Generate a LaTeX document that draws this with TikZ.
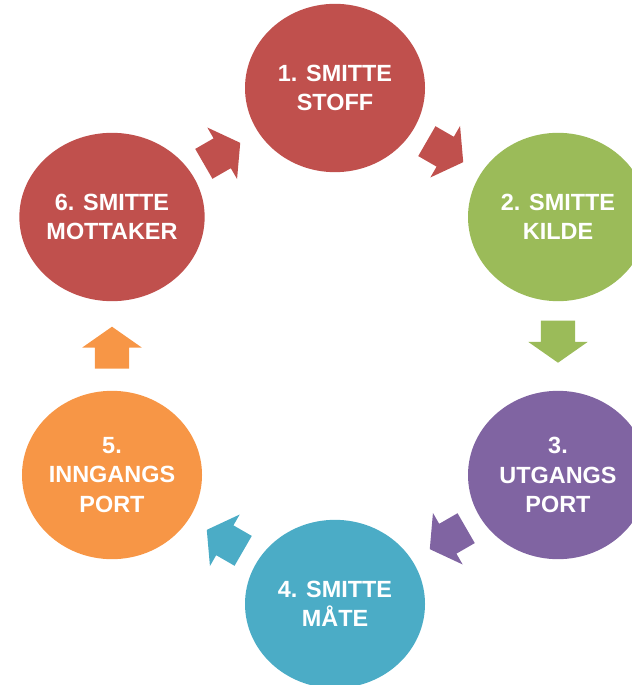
\documentclass[tikz,border=0pt]{standalone}
\usepackage{fontspec}
\setmainfont{Liberation Sans}
\usetikzlibrary{shapes.geometric,shapes.arrows,calc}

\definecolor{smred}{HTML}{C0504D}
\definecolor{smgreen}{HTML}{9BBB59}
\definecolor{smpurple}{HTML}{8064A2}
\definecolor{smblue}{HTML}{4BACC6}
\definecolor{smorange}{HTML}{F79646}

\begin{document}
\begin{tikzpicture}[x = 0.03cm,
y = -0.03cm,
stage/.style = {ellipse, minimum width=5.4cm, minimum height=5.05cm, inner sep=0pt,
  text=white, align=center, font=\fontsize{20}{25}\selectfont\bfseries},
turn/.style = {single arrow, minimum height=1.26cm, inner xsep=0pt, inner ysep=0.51cm,
  single arrow head extend=0.375cm, single arrow tip angle=110}]
\useasboundingbox (0,0) rectangle (631,685);

\node[stage, fill=smred] (stoff) at (335,88) {1. SMITTE\\STOFF};
\node[stage, fill=smgreen] (kilde) at (558,217) {2. SMITTE\\KILDE};
\node[stage, fill=smpurple] (utgang) at (558,475) {3.\\UTGANGS\\PORT};
\node[stage, fill=smblue] (maate) at (335,604) {4. SMITTE\\MÅTE};
\node[stage, fill=smorange] (inngang) at (112,475) {5.\\INNGANGS\\PORT};
\node[stage, fill=smred] (mottaker) at (112,217) {6. SMITTE\\MOTTAKER};

\node[turn, fill=smred, rotate=-30] (a12) at ($(stoff)!0.47!(kilde)$) {};
\node[turn, fill=smgreen, rotate=-90] (a23) at ($(kilde)!0.46!(utgang)$) {};
\node[turn, fill=smpurple, rotate=-150] (a34) at ($(utgang)!0.47!(maate)$) {};
\node[turn, fill=smblue, rotate=150] (a45) at ($(maate)!0.47!(inngang)$) {};
\node[turn, fill=smorange, rotate=90] (a56) at ($(inngang)!0.47!(mottaker)$) {};
\node[turn, fill=smred, rotate=30] (a61) at ($(mottaker)!0.47!(stoff)$) {};
\end{tikzpicture}
\end{document}
